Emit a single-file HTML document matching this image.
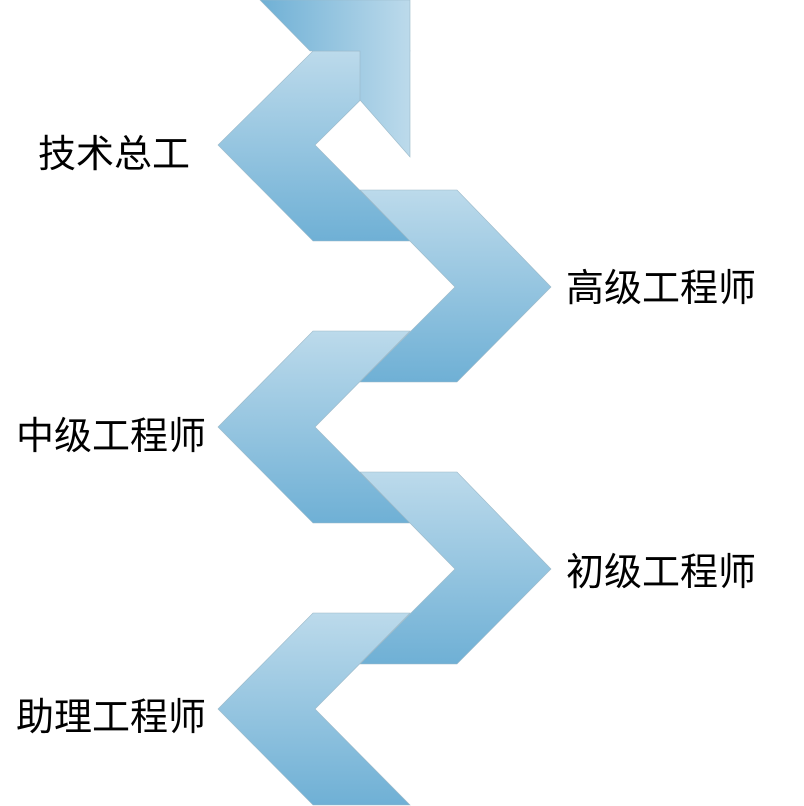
<!DOCTYPE html>
<html><head><meta charset="utf-8"><style>
html,body{margin:0;padding:0;background:#fff;}
body{width:804px;height:806px;position:relative;overflow:hidden;}
.t{position:absolute;font-family:"Liberation Sans","Noto Sans CJK SC",sans-serif;font-size:38px;line-height:40px;color:#000;white-space:nowrap;}
</style></head><body>
<svg width="804" height="806" style="position:absolute;left:0;top:0">
<defs>
<linearGradient id="g" x1="0" y1="0" x2="0" y2="1"><stop offset="0" stop-color="#bcdaeb"/><stop offset="1" stop-color="#6fb0d5"/></linearGradient>
<linearGradient id="h" x1="0" y1="0" x2="1" y2="0"><stop offset="0" stop-color="#6fb0d5"/><stop offset="1" stop-color="#bcdaeb"/></linearGradient>
</defs>
<g stroke="#9ab8c8" stroke-width="0.6">
<polygon fill="url(#g)" points="313,51 410,51 315,145 410,241 313,241 218,145"/>
<polygon fill="url(#g)" points="313,331 410,331 315,427 410,523 313,523 218,427"/>
<polygon fill="url(#g)" points="313,613 410,613 315,709 410,805 313,805 218,709"/>
<polygon fill="url(#h)" points="260,0 410,0 410,157 360,100 360,51 310,51"/>
<polygon fill="url(#g)" points="360,190 457,190 551,287 457,382 360,382 455,287"/>
<polygon fill="url(#g)" points="360,472 457,472 551,569 457,664 360,664 455,569"/>
</g>
</svg>
<div class="t" style="left:38px;top:135px">技术总工</div>
<div class="t" style="left:566px;top:269px">高级工程师</div>
<div class="t" style="left:16px;top:417px">中级工程师</div>
<div class="t" style="left:566px;top:553px">初级工程师</div>
<div class="t" style="left:16px;top:698px">助理工程师</div>
</body></html>
